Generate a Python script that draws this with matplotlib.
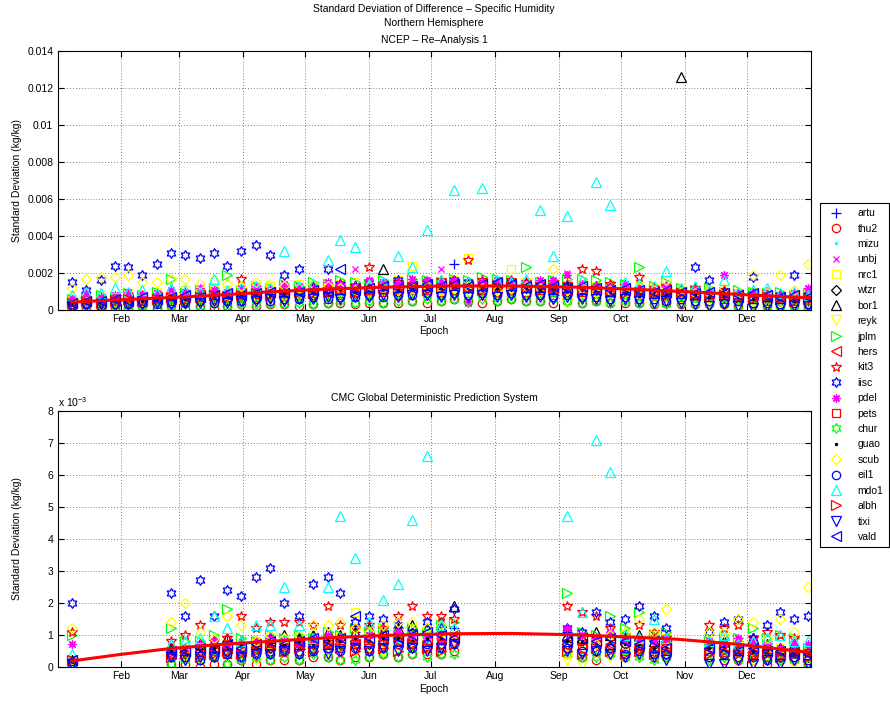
import numpy as np
import matplotlib
matplotlib.use('Agg')
import matplotlib.pyplot as plt
from matplotlib.path import Path

plt.rcParams['font.family'] = ['Liberation Sans', 'DejaVu Sans']
plt.rcParams['mathtext.default'] = 'regular'

# ---------------- data ----------------
stations = ['artu', 'thu2', 'mizu', 'unbj', 'nrc1', 'wtzr', 'bor1', 'reyk', 'jplm', 'hers', 'kit3',
            'iisc', 'pdel', 'pets', 'chur', 'guao', 'scub', 'eil1', 'mdo1', 'albh', 'tixi', 'vald']

month_days = [31, 59, 90, 120, 151, 181, 212, 243, 273, 304, 334]
month_labels = ['Feb', 'Mar', 'Apr', 'May', 'Jun', 'Jul', 'Aug', 'Sep', 'Oct', 'Nov', 'Dec']

# epochs (day of year) of the top panel
epochs_top = [7, 14, 21, 28, 34, 41, 48, 55, 62, 69,
              76, 82, 89, 96, 103, 110, 117, 124, 131, 137,
              144, 151, 158, 165, 172, 179, 186, 192, 199, 206,
              213, 220, 227, 234, 240, 247, 254, 261, 268, 275,
              282, 289, 295, 302, 309, 316, 323, 330, 337, 344,
              350, 357, 364]
# epochs of the bottom panel
epochs_bot = [7,
              55, 62, 69, 76, 82, 89, 96, 103, 110, 117, 124, 131, 137, 144, 151, 158, 165, 172, 179, 186, 192,
              247, 254, 261, 268, 275, 282, 289, 295,
              316, 323, 330, 337, 344, 350, 357, 364]

# top panel: std dev in units of 1e-4 kg/kg
top = {
    'artu': [5,5,6,5,6,7,6,7,8,7, 8,9,8,9,10,9,11,10,12,11, 12,13,12,14,13,14,15,25,14,15,
             14,13,14,13,12,13,12,12,11,12, 10,11,10,10,9,9,8,8,8,7, 7,7,6],
    'thu2': [1,1,1,1,1,2,1,2,1,2, 1,2,3,2,3,3,2,3,4,4, 3,4,4,4,5,4,5,6,5,4,
             5,6,5,5,4,5,4,5,4,4, 4,3,4,3,3,3,3,2,3,2, 2,2,1],
    'mizu': [4,3,5,6,4,5,7,5,6,8, 6,7,9,7,8,10,8,9,11,9, 10,12,10,11,13,11,12,14,11,12,
             13,11,12,13,10,11,12,10,10,11, 9,9,10,8,9,9,7,8,8,6, 7,7,6],
    'unbj': [5,9,6,7,5,8,7,6,9,8, 7,10,9,8,11,10,9,12,11,10, 22,12,11,13,12,14,22,13,14,13,
             12,14,13,12,13,20,12,11,13,10, 11,10,9,11,8,9,10,8,9,7, 8,7,8],
    'nrc1': [6,7,8,7,9,8,10,9,11,10, 12,11,10,12,13,12,14,13,12,14, 15,14,13,16,24,15,14,16,28,15,
             14,22,15,14,13,15,14,13,5,12, 13,12,11,12,10,11,10,9,10,9, 8,8,9],
    'wtzr': [3,4,3,4,5,4,5,6,5,6, 7,6,7,8,7,8,9,8,9,10, 9,10,11,10,11,12,11,11,12,11,
             10,11,12,10,11,10,11,10,9,10, 9,8,9,8,7,8,7,6,7,6, 5,6,5],
    'bor1': [5,6,5,6,7,6,8,7,8,9, 8,9,10,9,11,10,11,12,11,12, 13,12,22,13,14,13,14,15,14,13,
             14,15,14,13,14,13,12,13,12,11, 12,11,10,126,10,9,10,9,8,9, 8,7,8],
    'reyk': [3,3,4,3,4,5,4,5,6,5, 6,7,6,7,8,7,8,9,8,9, 10,9,10,11,10,9,10,11,10,9,
             10,11,10,9,9,4,9,8,9,8, 7,8,7,6,7,6,5,6,5,4, 5,4,4],
    'jplm': [6,7,8,7,9,8,10,17,9,11, 12,19,11,13,12,14,13,15,14,16, 15,14,16,15,17,16,15,17,16,18,
             17,16,23,15,16,17,17,16,15,14, 23,13,15,12,11,12,10,11,10,9, 10,8,9],
    'hers': [4,5,4,5,6,5,7,6,7,8, 7,8,9,8,10,9,10,11,10,11, 12,11,12,13,12,13,14,13,12,13,
             14,13,12,13,12,11,12,11,10,11, 10,9,10,9,8,9,8,7,8,7, 6,7,6],
    'kit3': [5,6,5,7,6,8,7,8,9,8, 10,9,17,10,11,12,11,13,12,14, 13,23,14,15,14,15,16,15,27,16,
             15,16,15,14,15,14,22,21,14,13, 18,12,13,11,12,10,11,10,9,10, 8,9,8],
    'iisc': [15,11,16,24,23,19,25,31,30,28, 31,24,32,35,30,19,22,12,22,14, 13,15,14,16,13,15,14,16,15,14,
             13,15,14,13,12,13,12,11,12,11, 10,11,10,9,23,16,10,9,18,9, 8,19,8],
    'pdel': [6,9,7,8,10,8,9,11,10,12, 11,10,12,13,11,14,13,12,15,14, 13,16,15,14,17,16,15,16,4,15,
             16,15,14,16,16,19,14,13,12,14, 12,11,13,10,11,10,19,9,10,9, 8,9,12],
    'pets': [3,4,4,5,4,5,6,5,6,7, 6,7,8,7,8,9,8,9,10,9, 10,11,10,11,12,11,10,11,12,11,
             10,11,10,11,10,9,10,9,10,9, 8,9,8,7,8,7,6,7,6,5, 6,5,1],
    'chur': [1,1,2,1,2,2,1,2,3,2, 3,2,3,3,4,3,4,3,4,5, 4,5,4,5,5,6,5,6,5,6,
             5,6,5,5,6,5,4,5,4,5, 4,4,3,4,3,3,3,2,3,2, 2,2,2],
    'guao': [4,4,5,5,6,5,6,7,6,7, 8,7,8,9,8,9,10,9,10,11, 10,11,12,11,12,11,12,12,11,12,
             12,11,12,11,11,10,11,10,10,9, 9,9,8,8,8,7,7,7,6,6, 6,5,5],
    'scub': [12,17,18,18,19,15,15,17,17,14, 16,14,13,15,14,13,12,14,13,12, 11,13,12,11,12,13,11,12,13,12,
             11,12,13,12,22,11,12,10,11,10, 12,11,16,10,9,11,12,10,19,9, 19,11,25],
    'eil1': [2,3,2,3,3,4,3,4,4,5, 4,5,5,6,5,6,6,7,6,7, 7,8,7,8,8,9,8,9,8,9,
             8,9,8,8,7,8,7,7,6,7, 6,6,5,6,5,5,4,5,4,4, 3,4,3],
    'mdo1': [8,10,9,12,10,11,9,12,11,10, 17,11,12,13,12,32,13,14,27,38, 34,14,15,29,23,43,16,65,15,66,
             16,15,17,54,29,51,16,69,57,15, 14,13,21,12,13,11,16,10,11,12, 9,10,8],
    'albh': [4,5,4,5,6,5,6,7,6,7, 8,7,8,9,8,9,10,9,10,11, 10,11,12,11,12,11,12,13,12,11,
             12,13,12,11,12,11,10,11,10,9, 10,9,8,9,8,7,8,7,6,7, 6,5,6],
    'tixi': [2,2,3,2,3,3,4,3,4,4, 5,4,5,5,6,5,6,6,7,6, 7,7,8,7,8,8,7,8,7,8,
             7,8,7,7,6,7,6,6,5,6, 5,4,5,4,3,2,3,2,1,2, 1,2,2],
    'vald': [4,5,5,6,5,7,6,7,8,7, 8,9,8,9,10,9,10,11,10,22, 11,12,13,12,13,14,13,14,13,14,
             15,14,13,14,13,12,13,12,11,12, 11,10,11,10,9,10,9,8,9,8, 7,8,7],
}

# bottom panel: std dev in units of 1e-4 kg/kg
bot = {
    'artu': [2, 6,5,7,6,8,7,8,9,8,9,10,9,10,11,10,11,12,11,10,11,12, 11,10,9,10,9,8,9,8, 8,7,8,6,7,5,6,5],
    'thu2': [1, 1,1,0,1,1,2,1,2,2,2,3,3,2,3,3,4,3,4,4,4,5, 4,3,2,4,3,4,3,3, 3,2,2,2,1,2,2,1],
    'mizu': [1, 5,5,6,5,6,6,7,7,6,7,8,7,8,8,8,9,8,9,8,9,9, 8,8,8,7,7,7,7,7, 6,6,5,6,5,5,4,4],
    'unbj': [2, 5,6,5,7,6,7,8,7,8,9,8,9,8,9,10,9,10,11,10,9,10, 9,10,9,8,9,8,9,8, 7,7,6,6,6,5,5,5],
    'nrc1': [2, 4,5,6,5,7,6,8,7,8,9,10,9,10,17,11,10,11,12,10,11,10, 4,9,8,10,9,8,10,9, 8,9,7,8,7,6,6,5],
    'wtzr': [1, 4,4,5,4,5,6,5,6,6,7,7,6,7,8,7,8,8,7,8,7,8, 7,8,7,6,7,6,5,4, 5,4,5,4,5,3,4,3],
    'bor1': [2, 6,5,7,8,9,8,8,9,10,9,10,11,10,11,12,11,12,13,12,14,19, 10,9,11,10,9,10,8,9, 7,8,7,9,7,6,7,5],
    'reyk': [1, 3,3,3,4,3,4,2,4,5,4,5,5,6,5,6,5,6,6,7,6,7, 2,1,4,3,4,3,4,2, 4,3,3,2,3,2,1,2],
    'jplm': [10, 12,8,8,10,18,9,8,10,9,10,9,11,10,12,11,12,10,12,11,13,14, 23,11,10,16,12,17,10,11, 8,9,9,12,9,10,9,6],
    'hers': [2, 4,5,4,5,6,5,6,7,6,7,8,7,8,7,8,9,8,9,8,9,10, 8,7,8,7,8,7,6,7, 6,5,6,5,5,4,5,4],
    'kit3': [11, 8,10,13,8,9,16,12,14,14,14,13,19,13,12,13,12,16,19,16,16,15, 19,17,16,12,10,13,11,9, 13,12,13,9,11,10,9,5],
    'iisc': [20, 23,16,27,16,24,22,28,31,20,16,26,28,23,14,16,15,13,11,14,12,18, 12,11,17,14,15,19,16,12, 11,14,15,9,13,17,15,16],
    'pdel': [7, 5,6,7,8,6,7,8,9,8,7,9,10,9,8,10,9,11,10,9,8,9, 12,10,9,11,8,9,8,9, 8,7,9,8,7,6,7,7],
    'pets': [1, 4,3,4,5,4,5,6,5,6,5,6,7,6,7,6,7,8,7,6,7,8, 7,6,7,6,5,6,5,6, 5,4,5,4,3,4,3,1],
    'chur': [1, 1,2,2,3,1,2,3,2,3,2,4,3,2,2,3,4,3,4,3,4,4, 4,3,3,4,3,3,2,3, 2,3,2,3,2,2,2,1],
    'guao': [2, 5,5,5,6,6,7,6,7,7,8,7,8,8,9,8,9,9,8,9,9,10, 8,8,7,8,7,7,6,6, 6,6,5,5,5,4,4,4],
    'scub': [12, 14,20,11,9,16,13,8,10,9,10,13,13,14,12,11,13,14,14,12,13,8, 4,5,7,10,11,15,11,18, 11,11,15,14,9,15,11,25],
    'eil1': [1, 3,3,2,3,4,3,4,4,5,4,5,6,5,6,5,6,7,6,7,6,7, 6,5,5,6,4,5,4,4, 3,4,3,3,2,3,3,2],
    'mdo1': [4, 7,8,9,16,12,8,13,13,25,13,9,25,47,34,14,21,26,46,66,13,12, 47,17,71,61,10,9,15,9, 8,10,7,8,9,10,8,8],
    'albh': [2, 3,4,3,4,5,4,5,6,5,6,5,7,6,5,7,6,5,7,6,5,7, 5,4,6,5,4,5,4,5, 4,5,4,3,4,3,4,3],
    'tixi': [1, 3,2,3,3,4,3,4,4,5,4,5,4,5,6,5,6,5,6,5,6,7, 5,4,5,4,3,4,3,2, 1,1,2,1,2,1,2,1],
    'vald': [2, 5,5,6,6,7,6,7,8,7,8,9,8,9,16,9,10,9,10,11,10,9, 8,9,8,9,8,7,8,6, 6,6,5,6,5,5,4,4],
}

# red fitted curves
fit_top_days = [7, 40, 70, 100, 130, 160, 190, 220, 250, 280, 310, 340, 364]
fit_top_vals = [4.3, 6.0, 7.5, 9.6, 11.3, 12.4, 13.0, 13.0, 12.4, 11.2, 9.6, 7.9, 6.6]   # 1e-4 kg/kg
fit_bot_days = [7, 30, 55, 80, 100, 130, 160, 190, 220, 250, 280, 300, 330, 364]
fit_bot_vals = [0.18, 0.38, 0.57, 0.70, 0.78, 0.90, 0.98, 1.03, 1.04, 1.00, 0.92, 0.86, 0.70, 0.45]  # 1e-3 kg/kg

# ---------------- styles ----------------
ang_o = np.deg2rad(90 + 60 * np.arange(6))
ang_i = ang_o + np.deg2rad(30)
ri = 1 / np.sqrt(3)
hv = []
for a, b in zip(ang_o, ang_i):
    hv.append((np.cos(a), np.sin(a)))
    hv.append((ri * np.cos(b), ri * np.sin(b)))
hv.append(hv[0])
hexagram = Path(hv, closed=True)

B, R, C, M, Y, K, G = '#0000ff', '#ff0000', '#00ffff', '#ff00ff', '#ffff00', '#000000', '#00ff00'
styles = {
    'artu': ('+', B, 6.5), 'thu2': ('o', R, 6), 'mizu': ('.', C, 3), 'unbj': ('x', M, 5),
    'nrc1': ('s', Y, 5.5), 'wtzr': ('D', K, 5), 'bor1': ('^', K, 6.5), 'reyk': ('v', Y, 6.5),
    'jplm': ('>', G, 6.5), 'hers': ('<', R, 6.5), 'kit3': ('*', R, 7.5), 'iisc': (hexagram, B, 7),
    'pdel': ((8, 2, 0), M, 6), 'pets': ('s', R, 5.5), 'chur': (hexagram, G, 7), 'guao': ('.', K, 3),
    'scub': ('D', Y, 5), 'eil1': ('o', B, 6), 'mdo1': ('^', C, 6.5), 'albh': ('>', R, 6.5),
    'tixi': ('v', B, 6.5), 'vald': ('<', B, 6.5),
}

W, H = 890.0, 704.0
fig = plt.figure(figsize=(W / 100, H / 100), dpi=100)
ax1 = fig.add_axes([57.5 / W, 1 - 310 / H, 753 / W, 259 / H])
ax2 = fig.add_axes([57.5 / W, 1 - 666.7 / H, 753 / W, 256 / H])

handles = []
for s in stations:
    m, c, ms = styles[s]
    filled = (m == '.')
    kw = dict(linestyle='none', marker=m, markersize=ms, markeredgecolor=c,
              markerfacecolor=c if filled else 'none', markeredgewidth=0.9)
    h, = ax1.plot(epochs_top, np.array(top[s]) * 1e-4, **kw)
    ax2.plot(epochs_bot, np.array(bot[s]) * 0.1, **kw)
    handles.append(h)

ax1.plot(fit_top_days, np.array(fit_top_vals) * 1e-4, color=R, lw=2.2, zorder=5)
ax2.plot(fit_bot_days, fit_bot_vals, color=R, lw=2.2, zorder=5)

for ax in (ax1, ax2):
    ax.set_xlim(0, 365)
    ax.set_xticks(month_days)
    ax.set_xticklabels(month_labels)
    ax.tick_params(direction='in', top=True, right=True, length=4, width=0.8,
                   labelsize=7.5, pad=3)
    ax.grid(True, linestyle=(0, (1, 2.5)), color='#555555', linewidth=0.6)
    for sp in ax.spines.values():
        sp.set_linewidth(0.8)

ax1.set_ylim(0, 0.014)
yt = [0, 0.002, 0.004, 0.006, 0.008, 0.01, 0.012, 0.014]
ax1.set_yticks(yt)
ax1.set_yticklabels(['0', '0.002', '0.004', '0.006', '0.008', '0.01', '0.012', '0.014'])
ax2.set_ylim(0, 8)
ax2.set_yticks(range(9))
ax2.set_yticklabels([str(i) for i in range(9)])

fs = 7.5
fig.text(434 / W, 1 - 9 / H, 'Standard Deviation of Difference – Specific Humidity', ha='center', va='center', fontsize=fs)
fig.text(434 / W, 1 - 23 / H, 'Northern Hemisphere', ha='center', va='center', fontsize=fs)
fig.text(434 / W, 1 - 40 / H, 'NCEP – Re–Analysis 1', ha='center', va='center', fontsize=fs)
fig.text(434 / W, 1 - 398 / H, 'CMC Global Deterministic Prediction System', ha='center', va='center', fontsize=fs)
fig.text(58 / W, 1 - 402 / H, r'x 10$^{-3}$', ha='left', va='center', fontsize=fs)
fig.text(17 / W, 1 - 180.5 / H, 'Standard Deviation (kg/kg)', rotation=90, ha='center', va='center', fontsize=fs)
fig.text(17 / W, 1 - 538.7 / H, 'Standard Deviation (kg/kg)', rotation=90, ha='center', va='center', fontsize=fs)
fig.text(434 / W, 1 - 331 / H, 'Epoch', ha='center', va='center', fontsize=fs)
fig.text(434 / W, 1 - 689 / H, 'Epoch', ha='center', va='center', fontsize=fs)

leg = fig.legend(handles, stations, loc='upper left', bbox_to_anchor=(820 / W, 1 - 203 / H),
                 frameon=True, fancybox=False, edgecolor='k', framealpha=1, fontsize=fs,
                 numpoints=1, handlelength=2.0, handletextpad=1.1, labelspacing=0.52,
                 borderpad=0.5, borderaxespad=0)
leg.get_frame().set_linewidth(0.8)

fig.savefig('out.png', dpi=100)
